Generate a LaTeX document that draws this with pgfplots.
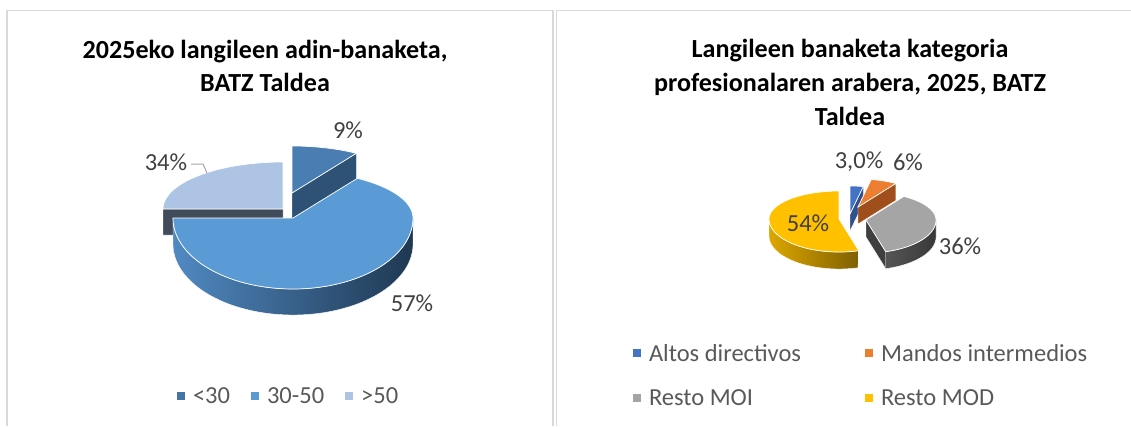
\documentclass[border=0pt]{standalone}
\usepackage{pgfplots}
\pgfplotsset{compat=1.18}
\usepackage{pgfplotstable}
\usepackage{fontspec}
\setmainfont{Carlito}

\definecolor{border}{HTML}{D9D9D9}
\definecolor{lbl}{HTML}{404040}
\definecolor{legtext}{HTML}{595959}
\definecolor{leader}{HTML}{A6A6A6}
% left pie
\definecolor{lAtop}{HTML}{4A7EB2}
\definecolor{lAface}{HTML}{2E5276}
\definecolor{lAleg}{HTML}{4674A8}
\definecolor{lBtop}{HTML}{5B9BD5}
\definecolor{lBsideL}{HTML}{5089C2}
\definecolor{lBsideR}{HTML}{1F3852}
\definecolor{lCtop}{HTML}{ADC4E4}
\definecolor{lCface}{HTML}{414B59}
% right pie
\definecolor{rAtop}{HTML}{4472C4}
\definecolor{rAface}{HTML}{2F528F}
\definecolor{rBtop}{HTML}{ED7D31}
\definecolor{rBface}{HTML}{A04F1C}
\definecolor{rCtop}{HTML}{A5A5A5}
\definecolor{rCface}{HTML}{3F3F3F}
\definecolor{rCsideL}{HTML}{555555}
\definecolor{rCsideR}{HTML}{383838}
\definecolor{rDtop}{HTML}{FFC000}
\definecolor{rDsideL}{HTML}{DDA600}
\definecolor{rDsideR}{HTML}{7F6000}

% slice shares (as drawn) and slice vertex positions (picture px, y down)
\pgfplotstableread{
share vx vy
9  292 193
66 293 218
25 283 209
}\agetab
\pgfplotstableread{
share vx vy
3  850 214
6  858 207
36 866 220
54 839 219
}\cattab

\newcommand\getel[4]{\pgfplotstablegetelem{#2}{#3}\of#1\expandafter\let\csname #4\endcsname\pgfplotsretval}

% top face: vx vy a1 a2 colour
\newcommand\topface[5]{%
  \addplot[forget plot, draw=white, line width=0.7pt, fill=#5, domain=#3:#4, samples=90, variable=\t]
   ({#1+\RX*cos(\t)}, {#2-((sin(\t)>0)?(\RYB):(\RYF))*sin(\t)}) -- (#1,#2) -- cycle;}
% outer side: vx vy s1 s2 leftcolour rightcolour
\newcommand\sideface[6]{%
  \pgfmathsetmacro\sE{2*(#4)-(#3)}%
  \addplot[forget plot, draw=white, line width=0.4pt, left color=#5, right color=#6, domain=#3:\sE, samples=361, variable=\t]
   ({#1+\RX*cos(((\t<=(#4))?(\t):(2*(#4)-\t)))}, {#2-\RYF*sin(((\t<=(#4))?(\t):(2*(#4)-\t)))+((\t<=(#4))?(0):(\DEP))}) -- cycle;}
% radial face: vx vy angle colour
\newcommand\radface[4]{%
  \pgfmathsetmacro\px{#1+\RX*cos(#3)}%
  \pgfmathsetmacro\py{#2-((sin(#3)>0)?(\RYB):(\RYF))*sin(#3)}%
  \pgfmathsetmacro\pyd{\py+\DEP}%
  \pgfmathsetmacro\cyd{#2+\DEP}%
  \addplot[forget plot, draw=white, line width=0.4pt, fill=#4] coordinates {(#1,#2) (\px,\py) (\px,\pyd) (#1,\cyd)} -- cycle;}

\pgfplotsset{
  panel/.style={scale only axis, height=426pt, ymin=0, ymax=426, y dir=reverse,
    hide axis, clip=false, anchor=south west,
    legend cell align=left,
    legend image code/.code={\fill[##1] (0pt,-4pt) rectangle (8pt,4pt);},
    legend style={draw=none, fill=none, inner sep=0pt, outer sep=0pt,
      font=\fontsize{24.5}{28}\selectfont\color{legtext},
      nodes={inner sep=0pt},
      /tikz/every odd column/.append style={column sep=8pt}}},
}

\begin{document}
\begin{tikzpicture}
% read data
\getel{\agetab}{0}{share}{LAs}\getel{\agetab}{0}{vx}{LAx}\getel{\agetab}{0}{vy}{LAy}
\getel{\agetab}{1}{share}{LBs}\getel{\agetab}{1}{vx}{LBx}\getel{\agetab}{1}{vy}{LBy}
\getel{\agetab}{2}{share}{LCs}\getel{\agetab}{2}{vx}{LCx}\getel{\agetab}{2}{vy}{LCy}
\pgfmathsetmacro\LT{\LAs+\LBs+\LCs}
\pgfmathsetmacro\LAb{90}\pgfmathsetmacro\LAa{\LAb-\LAs/\LT*360}
\pgfmathsetmacro\LBb{\LAa}\pgfmathsetmacro\LBa{\LBb-\LBs/\LT*360}
\pgfmathsetmacro\LCb{\LBa}\pgfmathsetmacro\LCa{\LCb-\LCs/\LT*360}
\getel{\cattab}{0}{share}{RAs}\getel{\cattab}{0}{vx}{RAx}\getel{\cattab}{0}{vy}{RAy}
\getel{\cattab}{1}{share}{RBs}\getel{\cattab}{1}{vx}{RBx}\getel{\cattab}{1}{vy}{RBy}
\getel{\cattab}{2}{share}{RCs}\getel{\cattab}{2}{vx}{RCx}\getel{\cattab}{2}{vy}{RCy}
\getel{\cattab}{3}{share}{RDs}\getel{\cattab}{3}{vx}{RDx}\getel{\cattab}{3}{vy}{RDy}
\pgfmathsetmacro\RT{\RAs+\RBs+\RCs+\RDs}
\pgfmathsetmacro\RAb{90}\pgfmathsetmacro\RAa{\RAb-\RAs/\RT*360}
\pgfmathsetmacro\RBb{\RAa}\pgfmathsetmacro\RBa{\RBb-\RBs/\RT*360}
\pgfmathsetmacro\RCb{\RBa}\pgfmathsetmacro\RCa{\RCb-\RCs/\RT*360}
\pgfmathsetmacro\RDb{\RCa}\pgfmathsetmacro\RDa{\RDb-\RDs/\RT*360}
% ---------------- left panel ----------------
\begin{axis}[panel, at={(0pt,0pt)}, width=556pt, xmin=0, xmax=556,
  legend columns=3,
  legend style={at={(axis cs:177,396)}, anchor=west,
    /tikz/every even column/.append style={column sep=21pt}}]
\def\RX{120}\def\RYB{47}\def\RYF{71}\def\DEP{26}
\addplot[forget plot, draw=border, line width=1.3pt] coordinates {(7,426) (7,10.5) (553,10.5) (553,426)};
% <30 (back)
\radface{\LAx}{\LAy}{\LAa}{lAface}
\topface{\LAx}{\LAy}{\LAa}{\LAb}{lAtop}
% >50 (back)
\radface{\LCx}{\LCy}{\LCb}{lCface}
\topface{\LCx}{\LCy}{\LCa}{\LCb}{lCtop}
% 30-50 (front)
\sideface{\LBx}{\LBy}{-180}{0}{lBsideL}{lBsideR}
\topface{\LBx}{\LBy}{\LBa}{\LBb}{lBtop}
\addplot[forget plot, color=leader, line width=1pt] coordinates {(191,164) (203,164) (207,173)};
\node[font=\fontsize{26.1}{32.5}\selectfont\bfseries, align=center] at (axis cs:265,66)
  {2025eko langileen adin-banaketa,\\BATZ Taldea};
\node[font=\fontsize{24.5}{28}\selectfont, text=lbl] at (axis cs:348,130) {9\%};
\node[font=\fontsize{24.5}{28}\selectfont, text=lbl] at (axis cs:166,162) {34\%};
\node[font=\fontsize{24.5}{28}\selectfont, text=lbl] at (axis cs:412,303) {57\%};
\addlegendimage{fill=lAleg, draw=none}\addlegendentry{<30}
\addlegendimage{fill=lBtop, draw=none}\addlegendentry{30-50}
\addlegendimage{fill=lCtop, draw=none}\addlegendentry{>50}
\end{axis}
% ---------------- right panel ----------------
\begin{axis}[panel, at={(556pt,0pt)}, width=575pt, xmin=556, xmax=1131,
  legend columns=2,
  legend style={at={(axis cs:633,375.5)}, anchor=west, row sep=27pt,
    /tikz/every even column/.append style={column sep=64pt}}]
\def\RX{70}\def\RYB{28}\def\RYF{33}\def\DEP{17}
\addplot[forget plot, draw=border, line width=1.3pt] coordinates {(556.5,426) (556.5,10.5) (1131,10.5)};
% blue and orange (back)
\radface{\RAx}{\RAy}{\RAa}{rAface}
\topface{\RAx}{\RAy}{\RAa}{\RAb}{rAtop}
\radface{\RBx}{\RBy}{\RBa}{rBface}
\topface{\RBx}{\RBy}{\RBa}{\RBb}{rBtop}
% yellow
\sideface{\RDx}{\RDy}{-180}{\RDb}{rDsideL}{rDsideR}
\topface{\RDx}{\RDy}{\RDa}{\RDb}{rDtop}
% gray
\radface{\RCx}{\RCy}{\RCa}{rCface}
\sideface{\RCx}{\RCy}{\RCa}{0}{rCsideL}{rCsideR}
\topface{\RCx}{\RCy}{\RCa}{\RCb}{rCtop}
\node[font=\fontsize{26.1}{34}\selectfont\bfseries, align=center] at (axis cs:850,82)
  {Langileen banaketa kategoria\\profesionalaren arabera, 2025, BATZ\\Taldea};
\node[font=\fontsize{24.5}{28}\selectfont, text=lbl] at (axis cs:859,162) {3,0\%};
\node[font=\fontsize{24.5}{28}\selectfont, text=lbl] at (axis cs:908,162) {6\%};
\node[font=\fontsize{24.5}{28}\selectfont, text=lbl] at (axis cs:808,223) {54\%};
\node[font=\fontsize{24.5}{28}\selectfont, text=lbl] at (axis cs:960,246) {36\%};
\addlegendimage{fill=rAtop, draw=none}\addlegendentry{Altos directivos}
\addlegendimage{fill=rBtop, draw=none}\addlegendentry{Mandos intermedios}
\addlegendimage{fill=rCtop, draw=none}\addlegendentry{Resto MOI}
\addlegendimage{fill=rDtop, draw=none}\addlegendentry{Resto MOD}
\end{axis}
\pgfresetboundingbox
\path[use as bounding box] (0,0) rectangle (1131pt,426pt);
\end{tikzpicture}
\end{document}
